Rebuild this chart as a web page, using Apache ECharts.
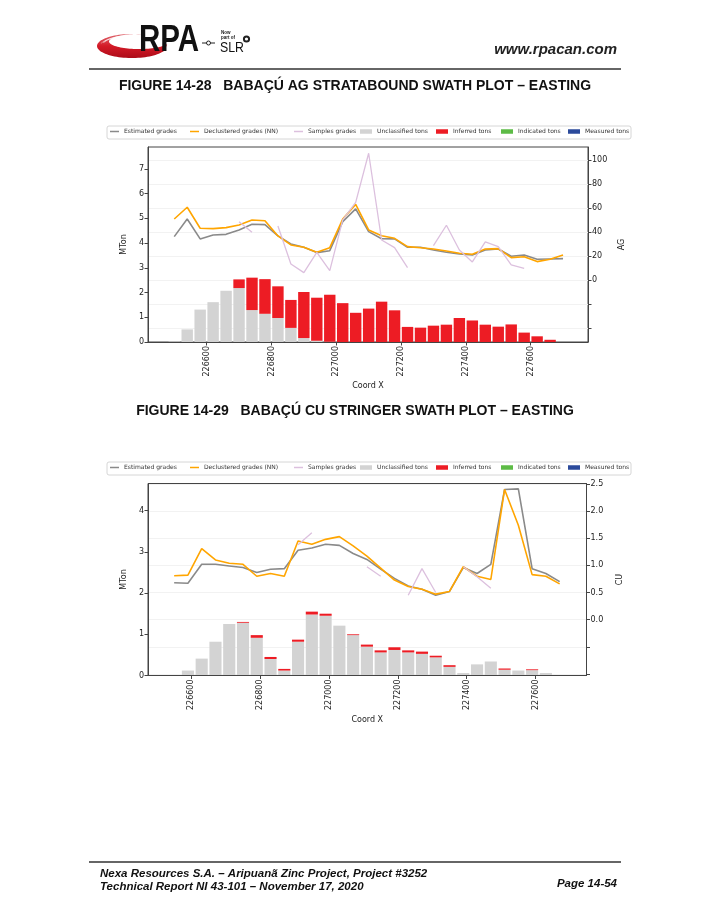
<!DOCTYPE html>
<html><head><meta charset="utf-8">
<script src="https://cdn.jsdelivr.net/npm/echarts@6/dist/echarts.min.js"></script>
<style>html,body{margin:0;padding:0;background:#fff;}#c{width:710px;height:919px;}</style>
</head><body><div id="c"></div>
<script>
// ---------- Figure 14-28 (AG) ----------
const agX = [226500,226540,226580,226620,226660,226700,226740,226780,226820,226860,226900,226940,226980,227020,227060,227100,227140,227180,227220,227260,227300,227340,227380,227420,227460,227500,227540,227580,227620,227660,227700];
const agUnclassified = [0.02,0.51,1.31,1.61,2.07,2.18,1.29,1.14,0.97,0.57,0.16,0.05,0.01,0,0,0,0,0,0,0,0,0,0,0,0,0,0,0,0,0,0];
const agInferred = [0,0,0,0,0,0.35,1.31,1.40,1.28,1.13,1.86,1.74,1.90,1.57,1.18,1.35,1.63,1.28,0.61,0.58,0.66,0.70,0.97,0.87,0.70,0.62,0.71,0.38,0.23,0.09,0];
const agEstimated = [36.1,50.8,34.2,37.5,38.0,41.7,46.4,46.1,36.7,30.0,27.2,22.8,24.4,48.6,59.2,40.3,34.4,34.2,27.2,27.2,25.0,23.1,21.7,20.8,25.0,25.8,19.7,20.8,17.2,17.5,17.8];
const agDeclustered = [50.8,60.6,43.1,42.8,43.6,45.8,50.0,49.4,36.7,29.2,27.2,23.1,26.9,50.8,63.0,41.7,36.9,34.7,27.8,26.9,25.8,24.2,22.2,21.4,25.8,26.1,18.6,19.4,15.3,17.2,20.8];
const agSamples = [null,null,null,null,null,48.6,39.7,null,45.0,13.3,6.1,23.0,7.8,50.0,64.7,105.6,33.3,26.9,10.3,null,28.6,45.6,25.0,15.0,31.7,27.8,12.5,9.7,null,null,null];

// ---------- Figure 14-29 (CU) ----------
const cuX = [226550,226590,226630,226670,226710,226750,226790,226830,226870,226910,226950,226990,227030,227070,227110,227150,227190,227230,227270,227310,227350,227390,227430,227470,227510,227550,227590,227630,227670];
const cuUnclassified = [0.01,0.12,0.41,0.82,1.25,1.28,0.915,0.40,0.12,0.82,1.48,1.45,1.21,0.98,0.70,0.56,0.62,0.56,0.525,0.44,0.21,0.06,0.27,0.34,0.14,0.12,0.13,0.06,0];
const cuInferred = [0,0,0,0,0,0.02,0.065,0.05,0.04,0.05,0.07,0.05,0,0.02,0.05,0.05,0.065,0.05,0.055,0.04,0.04,0,0,0,0.03,0,0.02,0,0];
const cuEstimated = [0.68,0.67,1.02,1.02,0.99,0.96,0.87,0.93,0.94,1.28,1.32,1.39,1.37,1.22,1.11,0.93,0.76,0.62,0.56,0.45,0.52,0.96,0.85,1.02,2.40,2.41,0.94,0.85,0.70];
const cuDeclustered = [0.81,0.82,1.31,1.10,1.04,1.02,0.80,0.85,0.80,1.45,1.39,1.48,1.53,1.36,1.17,0.95,0.73,0.61,0.56,0.47,0.52,0.975,0.80,0.74,2.40,1.74,0.83,0.80,0.66];
const cuSamples = [null,null,null,null,null,null,null,null,null,1.38,1.60,null,null,null,0.975,0.80,null,0.45,0.94,0.50,null,0.975,0.79,0.58,null,null,null,null,null];

// ---------- tick labels ----------
const xTicks = [226600,226800,227000,227200,227400,227600];
const agMtonTicks = [0,1,2,3,4,5,6,7];
const agGradeTicks = [-40,-20,0,20,40,60,80,100];
const agGradeLabels = [0,20,40,60,80,100];
const cuMtonTicks = [0,1,2,3,4];
const cuGradeTicks = [-1,-0.5,0,0.5,1,1.5,2,2.5];
const cuGradeLabels = [0,0.5,1,1.5,2,2.5];

const legendNames = ['Estimated grades','Declustered grades (NN)','Samples grades','Unclassified tons','Inferred tons','Indicated tons','Measured tons'];

const zip = (xs, ys) => xs.map((x, i) => [x, ys[i]]);
// bars: value first so ECharts stacks the value dimension; encode maps it back
const zipBar = (xs, ys) => xs.map((x, i) => [ys[i], x]);
const FONT = 'DejaVu Sans';
const AX = '#444';
const C = {est:'#8a8a8a', dec:'#ffa500', smp:'#dcc0de', unc:'#d3d3d3', inf:'#ed1c24', ind:'#5dbb46', mea:'#2b4a9b'};

function xAxisCfg(grid, min, max) {
  return {
    gridIndex: grid, type: 'value', min: min, max: max, z: 10,
    axisLine: {show: true, lineStyle: {color: AX, width: 1}},
    axisTick: {show: true, customValues: xTicks, length: 3.5, lineStyle: {color: AX}},
    axisLabel: {customValues: xTicks, rotate: 90, fontSize: 8, fontFamily: FONT, color: '#222', margin: 4, formatter: v => String(v)},
    splitLine: {show: false},
    name: 'Coord X', nameLocation: 'middle', nameGap: 40,
    nameTextStyle: {fontSize: 8, fontFamily: FONT, color: '#222'}
  };
}
function leftAxisCfg(grid, max, ticks) {
  return {
    gridIndex: grid, type: 'value', position: 'left', min: 0, max: max,
    axisLine: {show: true, lineStyle: {color: AX}},
    axisTick: {show: true, customValues: ticks, length: 3.5, lineStyle: {color: AX}},
    axisLabel: {customValues: ticks, fontSize: 8, fontFamily: FONT, color: '#222', margin: 4},
    splitLine: {show: false},
    name: 'MTon', nameLocation: 'middle', nameGap: 17, nameRotate: 90,
    nameTextStyle: {fontSize: 8, fontFamily: FONT, color: '#222'}
  };
}
function rightAxisCfg(grid, min, max, ticks, labels, name, fmt) {
  return {
    gridIndex: grid, type: 'value', position: 'right', min: min, max: max,
    axisLine: {show: true, lineStyle: {color: AX}},
    axisTick: {show: true, customValues: ticks, length: 3.5, lineStyle: {color: AX}},
    axisLabel: {customValues: labels, fontSize: 8, fontFamily: FONT, color: '#222', margin: 4, formatter: fmt},
    splitLine: {show: true, lineStyle: {color: '#f2f2f2', width: 1}},
    name: name, nameLocation: 'middle', nameGap: 29, nameRotate: 90,
    nameTextStyle: {fontSize: 8, fontFamily: FONT, color: '#222'}
  };
}
function seriesFor(xi, yl, yr, stack, xs, unc, inf, est, dec, smp) {
  const barBase = {type: 'bar', xAxisIndex: xi, yAxisIndex: yl, stack: stack, barWidth: '88%',
    encode: {x: 1, y: 0}, itemStyle: {borderWidth: 0}};
  const lineBase = {type: 'line', xAxisIndex: xi, yAxisIndex: yr, symbol: 'none', showSymbol: false, connectNulls: false};
  return [
    Object.assign({}, barBase, {name: 'Unclassified tons', color: C.unc, data: zipBar(xs, unc)}),
    Object.assign({}, barBase, {name: 'Inferred tons', color: C.inf, data: zipBar(xs, inf)}),
    Object.assign({}, barBase, {name: 'Indicated tons', color: C.ind, data: []}),
    Object.assign({}, barBase, {name: 'Measured tons', color: C.mea, data: []}),
    Object.assign({}, lineBase, {name: 'Estimated grades', color: C.est, z: 3, lineStyle: {width: 1.6, color: C.est}, data: zip(xs, est)}),
    Object.assign({}, lineBase, {name: 'Declustered grades (NN)', color: C.dec, z: 4, lineStyle: {width: 1.6, color: C.dec}, data: zip(xs, dec)}),
    Object.assign({}, lineBase, {name: 'Samples grades', color: C.smp, z: 5, lineStyle: {width: 1.3, color: C.smp}, data: zip(xs, smp)})
  ];
}
const legendLefts = [110, 190, 294, 360, 436, 501, 568];
function legendsAt(top) {
  return legendNames.map((n, i) => {
    const isLine = i < 3;
    return {
      data: [n], left: legendLefts[i], top: top, padding: 0, orient: 'horizontal',
      icon: 'rect', itemWidth: isLine ? 9 : 12, itemHeight: isLine ? 1.5 : 4.5,
      textStyle: {fontSize: 6, fontFamily: FONT, color: '#333'}, selectedMode: false
    };
  });
}

// ---------- page decoration (logo) ----------
function ell(cx, cy, rx, ry, t0, t1, step) {
  const p = [];
  const s = t1 >= t0 ? step : -step;
  for (let t = t0; (s > 0 ? t <= t1 : t >= t1); t += s) { const r = t * Math.PI / 180; p.push([cx + rx * Math.cos(r), cy + ry * Math.sin(r)]); }
  return p;
}
function swoosh() {
  return ell(132, 46, 35, 12, 280, 20, 4).concat(ell(139, 41.5, 30, 7.5, 20, 280, 4));
}
const TXT = 'Liberation Sans';
const streaks = [
  ell(133, 45, 31, 9.5, 195, 245, 5),
  ell(134, 44, 30, 8.5, 190, 250, 5),
  ell(131, 47, 32, 10.5, 200, 235, 5)
];
const graphics = [
  {type: 'polygon', shape: {points: swoosh()}, style: {fill: new echarts.graphic.LinearGradient(0, 0, 0, 1, [{offset: 0, color: '#e06a72'}, {offset: 0.5, color: '#d41a27'}, {offset: 1, color: '#ad0c19'}])}, z: 1},
  {type: 'polyline', shape: {points: streaks[0]}, style: {stroke: 'rgba(255,255,255,0.75)', lineWidth: 0.9, fill: null}, z: 2},
  {type: 'polyline', shape: {points: streaks[1]}, style: {stroke: 'rgba(255,255,255,0.55)', lineWidth: 0.8, fill: null}, z: 2},
  {type: 'polyline', shape: {points: streaks[2]}, style: {stroke: 'rgba(255,255,255,0.45)', lineWidth: 0.8, fill: null}, z: 2},
  {type: 'text', x: 139, y: 41, scaleX: 0.82, style: {text: 'RPA', font: 'bold 36px ' + TXT, fill: '#111', textAlign: 'left', textVerticalAlign: 'middle', align: 'left', verticalAlign: 'middle'}, z: 3},
  {type: 'line', shape: {x1: 202, y1: 43, x2: 215, y2: 43}, style: {stroke: '#222', lineWidth: 1}, z: 3},
  {type: 'circle', shape: {cx: 208.5, cy: 43, r: 2}, style: {fill: '#fff', stroke: '#222', lineWidth: 1}, z: 4},
  {type: 'text', x: 221, y: 33, style: {text: 'Now', font: 'bold 4.5px ' + TXT, fill: '#222', textVerticalAlign: 'middle', verticalAlign: 'middle'}, z: 3},
  {type: 'text', x: 221, y: 37.5, style: {text: 'part of', font: 'bold 4.5px ' + TXT, fill: '#222', textVerticalAlign: 'middle', verticalAlign: 'middle'}, z: 3},
  {type: 'text', x: 220, y: 48, scaleX: 0.82, style: {text: 'SLR', font: '15px ' + TXT, fill: '#111', textVerticalAlign: 'middle', verticalAlign: 'middle'}, z: 3},
  {type: 'ring', shape: {cx: 246.5, cy: 39, r: 3.6, r0: 1.6}, style: {fill: '#222'}, z: 3},
  {type: 'text', x: 617, y: 50, style: {text: 'www.rpacan.com', font: 'italic bold 15px ' + TXT, fill: '#222', textAlign: 'right', align: 'right', textVerticalAlign: 'middle', verticalAlign: 'middle'}, z: 3},
  {type: 'line', shape: {x1: 89, y1: 69, x2: 621, y2: 69}, style: {stroke: '#333', lineWidth: 1.5}, z: 3},
  {type: 'text', x: 355, y: 86, style: {text: 'FIGURE 14-28   BABAÇÚ AG STRATABOUND SWATH PLOT – EASTING', font: 'bold 14px ' + TXT, fill: '#111', textAlign: 'center', align: 'center', textVerticalAlign: 'middle', verticalAlign: 'middle'}, z: 3},
  {type: 'text', x: 355, y: 411, style: {text: 'FIGURE 14-29   BABAÇÚ CU STRINGER SWATH PLOT – EASTING', font: 'bold 14px ' + TXT, fill: '#111', textAlign: 'center', align: 'center', textVerticalAlign: 'middle', verticalAlign: 'middle'}, z: 3},
  {type: 'rect', shape: {x: 107, y: 126, width: 524, height: 13, r: 2}, style: {fill: '#fff', stroke: '#cccccc', lineWidth: 0.8}, z: -1},
  {type: 'rect', shape: {x: 107, y: 462, width: 524, height: 13, r: 2}, style: {fill: '#fff', stroke: '#cccccc', lineWidth: 0.8}, z: -1},
  {type: 'line', shape: {x1: 89, y1: 862, x2: 621, y2: 862}, style: {stroke: '#333', lineWidth: 1.5}, z: 3},
  {type: 'text', x: 100, y: 874, style: {text: 'Nexa Resources S.A. – Aripuanã Zinc Project, Project #3252', font: 'italic bold 11.5px ' + TXT, fill: '#111', textVerticalAlign: 'middle', verticalAlign: 'middle'}, z: 3},
  {type: 'text', x: 100, y: 887, style: {text: 'Technical Report NI 43-101 – November 17, 2020', font: 'italic bold 11.5px ' + TXT, fill: '#111', textVerticalAlign: 'middle', verticalAlign: 'middle'}, z: 3},
  {type: 'text', x: 617, y: 884, style: {text: 'Page 14-54', font: 'italic bold 11.5px ' + TXT, fill: '#111', textAlign: 'right', align: 'right', textVerticalAlign: 'middle', verticalAlign: 'middle'}, z: 3}
];

const chart = echarts.init(document.getElementById('c'), null, {renderer: 'canvas'});
chart.setOption({
  animation: false,
  backgroundColor: '#fff',
  grid: [
    {left: 148, top: 147, width: 440, height: 195, show: true, borderColor: AX, borderWidth: 1, backgroundColor: 'transparent'},
    {left: 148, top: 483.5, width: 438.5, height: 192, show: true, borderColor: AX, borderWidth: 1, backgroundColor: 'transparent'}
  ],
  xAxis: [xAxisCfg(0, 226419, 227777), xAxisCfg(1, 226474, 227748)],
  yAxis: [
    leftAxisCfg(0, 7.88, agMtonTicks),
    rightAxisCfg(0, -51.7, 110.8, agGradeTicks, agGradeLabels, 'AG', v => String(v)),
    leftAxisCfg(1, 4.66, cuMtonTicks),
    rightAxisCfg(1, -1.03, 2.51, cuGradeTicks, cuGradeLabels, 'CU', v => Number(v).toFixed(1))
  ],
  legend: legendsAt(128.5).concat(legendsAt(464.5)),
  series: seriesFor(0, 0, 1, 'ag', agX, agUnclassified, agInferred, agEstimated, agDeclustered, agSamples)
    .concat(seriesFor(1, 2, 3, 'cu', cuX, cuUnclassified, cuInferred, cuEstimated, cuDeclustered, cuSamples)),
  graphic: graphics
});
</script>
</body></html>
